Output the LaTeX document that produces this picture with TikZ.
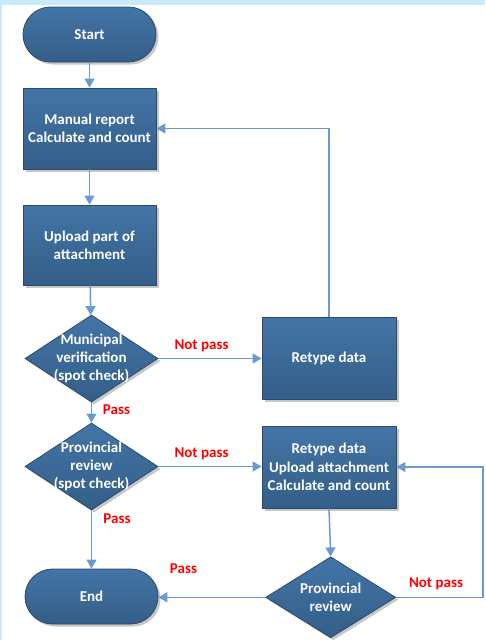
\documentclass[tikz,border=0pt]{standalone}
\usepackage{fontspec}
\setmainfont{Carlito}
\usetikzlibrary{arrows.meta,shadows,shapes.geometric}
\definecolor{boxtop}{HTML}{4375A7}
\definecolor{boxbot}{HTML}{345E88}
\definecolor{boxline}{HTML}{2E4A68}
\definecolor{arrowc}{HTML}{6A9BD0}
\definecolor{band}{HTML}{C9EAFB}
\definecolor{lblred}{HTML}{FF0000}
\begin{document}
\begin{tikzpicture}[x=1pt,y=-1pt,
 every node/.style={font=\fontsize{15}{18.3}\selectfont\bfseries},
 shapebase/.style={draw=boxline, line width=0.8pt, top color=boxtop, bottom color=boxbot, text=white, align=center,
   drop shadow={shadow xshift=2.5pt,shadow yshift=-2.5pt,fill=black,opacity=0.22}},
 procbox/.style={shapebase, rectangle, minimum width=133pt, minimum height=81pt, inner sep=0pt},
 termbox/.style={shapebase, rectangle, rounded corners=27.5pt, minimum width=133pt, minimum height=55pt, inner sep=0pt},
 decbox/.style={shapebase, diamond, minimum width=133pt, minimum height=87pt, inner sep=0pt},
 dectext/.style={text=white, align=center},
 flow/.style={draw=arrowc, line width=1.5pt, -{Triangle[length=9pt,width=10pt]}},
 lbl/.style={text=lblred}
]
\useasboundingbox (0,0) rectangle (485,640);
\fill[white] (0,0) rectangle (485,640);
\fill[band] (0,0) rectangle (485,5);
\fill[band] (0,0) rectangle (2,640);

\node[termbox] (start) at (89.5,34.5) {Start};
\node[procbox] (manual) at (89.5,128.5) {Manual report\\Calculate and count};
\node[procbox, minimum height=80pt] (upload) at (89.5,245) {Upload part of\\attachment};
\node[decbox, label={[dectext]center:Municipal\\verification\\(spot check)}] (muni) at (91.5,358.5) {};
\node[procbox, minimum width=134pt, minimum height=82pt] (retype) at (329,358) {Retype data};
\node[decbox, label={[dectext]center:Provincial\\review\\(spot check)}] (prov) at (91.5,466.5) {};
\node[procbox, minimum width=134pt, minimum height=82pt] (retype2) at (329,467) {Retype data\\Upload attachment\\Calculate and count};
\node[termbox] (end) at (91.5,596.5) {End};
\node[decbox, minimum width=130pt, minimum height=81pt, label={[dectext]center:Provincial\\review}] (prov2) at (330.7,597.3) {};

\coordinate (loop) at (483,597.3);

\draw[flow] (start) -- (manual);
\draw[flow] (manual) -- (upload);
\draw[flow] (upload) -- (muni);
\draw[flow] (muni) -- (prov);
\draw[flow] (prov) -- (end);
\draw[flow] (muni.east) -- (muni.east -| retype.west);
\draw[flow] (retype.north) |- (manual.east);
\draw[flow] (prov.east) -- (prov.east -| retype2.west);
\draw[flow] (retype2.south) -- (prov2.north);
\draw[flow] (prov2.west) -- (prov2.west -| end.east);
\draw[flow] (prov2.east) -- (loop) |- (retype2.east);

\node[lbl] (np1) at (201.5,345.5) {Not pass};
\node[lbl] (p1) at (116.5,410) {Pass};
\node[lbl] (np2) at (201.5,454) {Not pass};
\node[lbl] (p2) at (117,519) {Pass};
\node[lbl] (p3) at (183.5,569) {Pass};
\node[lbl] (np3) at (436,584) {Not pass};
\end{tikzpicture}
\end{document}
